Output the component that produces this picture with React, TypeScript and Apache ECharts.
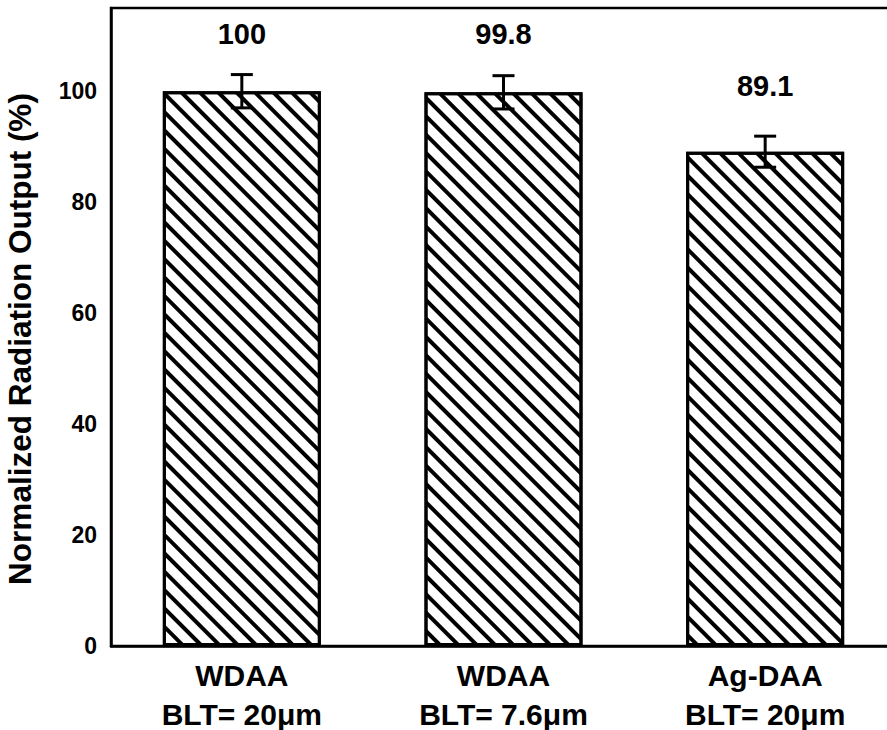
import React, { useEffect, useRef } from "react";
import * as echarts from "echarts";

// Sample groups: adhesive type and bond-line thickness
const categories = ["WDAA\nBLT= 20μm", "WDAA\nBLT= 7.6μm", "Ag-DAA\nBLT= 20μm"];
// Normalized radiation output (%)
const values = [100, 99.8, 89.1];
// Standard deviation (±) for each group
const errors = [3.0, 3.0, 2.8];
// Value label text above each bar
const valueLabels = ["100", "99.8", "89.1"];
// Y-axis range
const yMin = 0;
const yMax = 115;
const yStep = 20;

const FONT = "'Liberation Sans', Arial, Helvetica, sans-serif";

export default function App() {
  const ref = useRef<HTMLDivElement>(null);

  useEffect(() => {
    document.body.style.margin = "0";
    if (!ref.current) return;
    const chart = echarts.init(ref.current, undefined, { renderer: "svg" });

    const labelGap = [43, 44, 51];

    const option: any = {
      animation: false,
      backgroundColor: "#ffffff",
      textStyle: { fontFamily: FONT },
      grid: {
        left: 111,
        right: -9,
        top: 8,
        bottom: 84,
        outerBoundsMode: "none",
        containLabel: false,
        show: true,
        borderColor: "#000",
        borderWidth: 2.5,
        backgroundColor: "transparent",
      },
      xAxis: {
        type: "category",
        data: categories,
        axisLine: { show: true, lineStyle: { color: "#000", width: 2.5 } },
        axisTick: { show: false },
        axisLabel: {
          color: "#000",
          fontFamily: FONT,
          fontWeight: "bold",
          fontSize: 30,
          lineHeight: 39,
          margin: 10,
          interval: 0,
        },
        splitLine: { show: false },
      },
      yAxis: {
        type: "value",
        min: yMin,
        max: yMax,
        interval: yStep,
        name: "Normalized Radiation Output (%)",
        nameLocation: "middle",
        nameGap: 75,
        nameTextStyle: {
          color: "#000",
          fontFamily: FONT,
          fontWeight: "bold",
          fontSize: 31.5,
          padding: [0, 24, 0, 0],
        },
        axisLine: { show: true, lineStyle: { color: "#000", width: 2.5 } },
        axisTick: { show: false },
        axisLabel: {
          color: "#000",
          fontFamily: FONT,
          fontWeight: "bold",
          fontSize: 23,
          margin: 14,
          showMaxLabel: false,
        },
        splitLine: { show: false },
      },
      series: [
        {
          type: "bar",
          barWidth: 158,
          data: values.map((v, i) => ({
            value: v,
            label: {
              show: true,
              position: "top",
              distance: labelGap[i],
              formatter: valueLabels[i],
              color: "#000",
              fontFamily: FONT,
              fontWeight: "bold",
              fontSize: 29,
            },
          })),
          itemStyle: {
            color: "#ffffff",
            borderColor: "#000",
            borderWidth: 3,
            decal: {
              symbol: "rect",
              color: "#000",
              backgroundColor: "#ffffff",
              dashArrayX: [1, 0],
              dashArrayY: [3.5, 9],
              rotation: Math.PI / 4,
            },
          },
          z: 2,
        },
        {
          type: "custom",
          z: 5,
          data: values.map((v, i) => [i, v, errors[i]]),
          renderItem: (params: any, api: any) => {
            const x = api.value(0);
            const v = api.value(1);
            const e = api.value(2);
            const hi = api.coord([x, v + e]);
            const lo = api.coord([x, v - e]);
            const half = 11;
            const style = { stroke: "#000", lineWidth: 3 };
            return {
              type: "group",
              children: [
                { type: "line", shape: { x1: hi[0], y1: hi[1], x2: lo[0], y2: lo[1] }, style },
                { type: "line", shape: { x1: hi[0] - half, y1: hi[1], x2: hi[0] + half, y2: hi[1] }, style },
                { type: "line", shape: { x1: lo[0] - half, y1: lo[1], x2: lo[0] + half, y2: lo[1] }, style },
              ],
            };
          },
        },
      ],
    };

    chart.setOption(option);
    return () => chart.dispose();
  }, []);

  return <div ref={ref} style={{ width: 887, height: 730 }} />;
}
